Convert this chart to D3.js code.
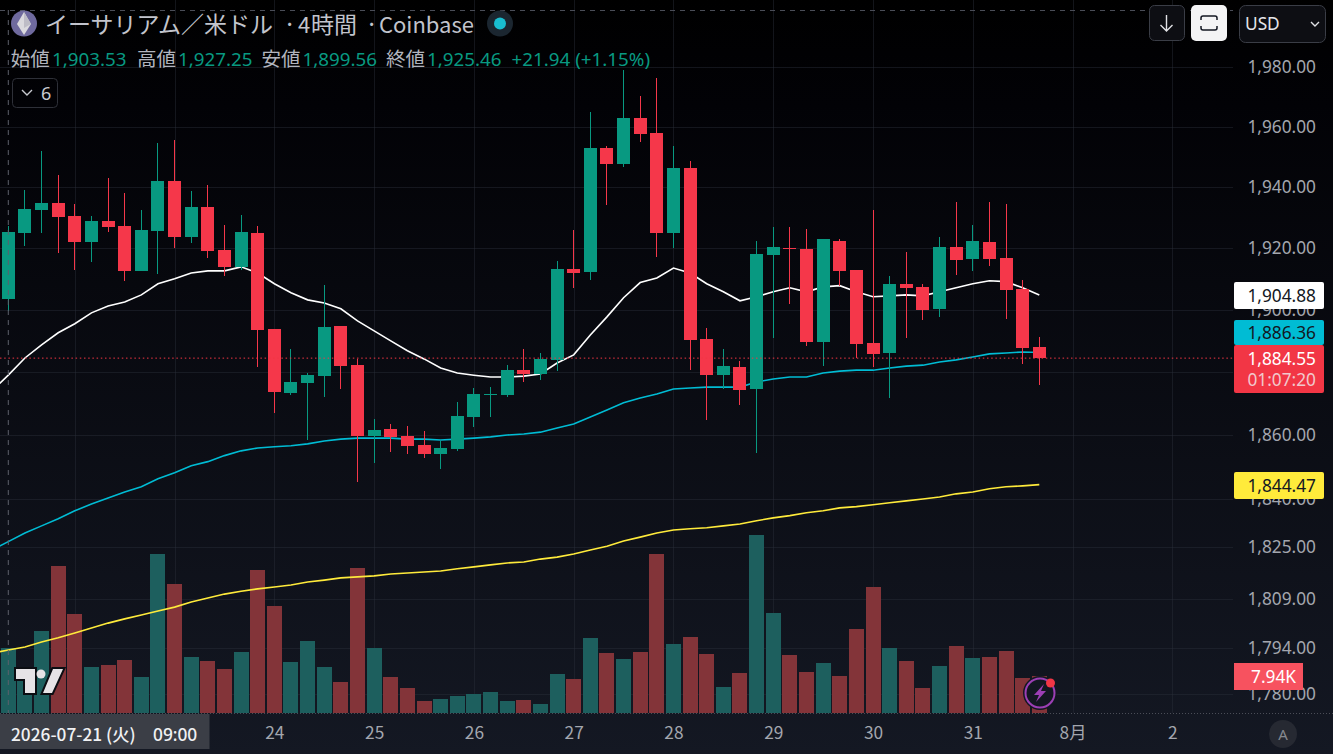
<!DOCTYPE html>
<html lang="ja">
<head>
<meta charset="utf-8">
<title>ETH/USD</title>
<script src="https://cdn.jsdelivr.net/npm/d3@7"></script>
<style>
	html, body { margin: 0; padding: 0; background: #000; overflow: hidden; }
	text { font-family: "Noto Sans", "Noto Sans CJK JP", sans-serif; }
	.cjk { font-family: "Noto Sans CJK JP", "Noto Sans", sans-serif; }
	.priceAxis text, .timeAxis text { fill: #a3a6ae; font-size: 17.3px; }
	.priceAxis path, .priceAxis line, .timeAxis path, .timeAxis line { display: none; }
	.gridLine { stroke: #2a2e39; stroke-opacity: 0.45; stroke-width: 1; shape-rendering: crispEdges; }
	.axisBtn { fill: #0d0e13; stroke: #3a3d46; stroke-width: 1; }
</style>
</head>
<body>
<div id="chart"></div>
<script>
//--------------------------------- Data -------------------------------------------------------------

var opens = [1903.53,1925.0,1932.6,1934.9,1930.6,1922.1,1929.0,1927.3,1912.7,1925.7,1942.1,1923.7,1933.6,1919.5,1914.0,1925.0,
	1893.9,1873.4,1876.6,1878.8,1894.9,1882.3,1859.8,1862.0,1859.8,1856.9,1854.1,1855.7,1865.8,1872.8,1872.8,1880.7,
	1879.5,1884.0,1913.3,1912.4,1953.1,1947.8,1963.0,1958.0,1925.0,1946.4,1890.7,1879.1,1881.7,1874.7,1917.9,1920.1,
	1919.8,1889.8,1922.4,1913.0,1889.4,1886.2,1908.5,1907.5,1900.4,1920.5,1916.6,1922.1,1916.9,1906.9,1888.2];
var highs = [1927.25,1939.1,1952.1,1944.1,1934.6,1930.6,1943.1,1938.2,1932.6,1954.7,1955.7,1938.8,1940.8,1927.7,1930.9,1927.3,
	1893.9,1887.5,1879.8,1908.2,1894.9,1884.3,1865.2,1863.6,1863.0,1861.4,1858.2,1870.6,1875.0,1875.3,1882.3,1887.5,
	1886.2,1915.9,1926.0,1965.0,1953.7,1979.1,1970.4,1976.4,1953.7,1948.8,1894.2,1887.5,1883.6,1922.4,1927.0,1927.0,
	1926.3,1923.1,1923.1,1913.0,1932.6,1911.1,1918.8,1908.5,1923.7,1935.2,1927.7,1935.2,1934.6,1909.8,1891.3];
var lows = [1899.56,1920.8,1925.0,1918.5,1913.0,1915.6,1925.3,1909.5,1912.7,1911.7,1920.1,1921.8,1916.9,1911.1,1913.0,1881.7,
	1867.1,1872.8,1858.5,1872.2,1874.7,1845.3,1851.3,1854.8,1854.1,1852.9,1849.4,1855.1,1862.6,1865.8,1872.2,1876.9,
	1877.6,1880.4,1907.2,1909.8,1934.2,1946.8,1955.1,1917.2,1920.1,1880.7,1864.9,1874.7,1869.6,1854.5,1891.0,1902.0,
	1888.5,1882.0,1907.9,1884.6,1881.7,1871.8,1891.0,1896.8,1897.8,1911.4,1912.7,1914.3,1897.1,1882.7,1876.0];
var closes = [1925.46,1932.9,1934.9,1930.3,1922.1,1929.0,1927.0,1912.7,1926.0,1942.1,1923.7,1933.6,1919.2,1914.0,1925.3,1893.6,
	1873.7,1876.9,1879.1,1894.6,1882.0,1859.8,1861.7,1859.5,1856.6,1854.1,1856.0,1866.1,1873.1,1873.1,1880.7,1879.5,
	1884.3,1913.3,1912.0,1953.1,1947.8,1963.0,1957.7,1925.0,1946.4,1890.4,1879.1,1882.0,1874.4,1918.2,1920.5,1919.8,
	1889.8,1923.1,1912.7,1889.1,1885.9,1908.5,1907.2,1900.0,1920.5,1916.2,1922.4,1916.6,1906.6,1887.8,1884.55];
//Volumes in thousands
var volumes = [13.95,8.23,17.67,31.62,21.32,9.94,10.37,11.44,7.80,34.19,27.75,12.09,11.23,9.51,13.16,30.76,
	23.03,11.02,15.52,9.94,6.72,31.19,14.02,7.80,5.44,2.65,3.08,3.72,4.15,4.58,2.65,2.86,
	2.00,8.44,7.37,16.17,12.95,11.66,13.16,34.19,14.88,16.38,12.73,5.65,8.66,38.27,21.53,12.52,
	8.87,10.80,8.01,18.10,27.11,14.02,11.23,5.44,10.16,14.45,11.87,12.09,13.38,7.58,7.94];
//The moving averages start one bar left of the first candle, they run off the chart there
var maWhite = [1874.0,1879.1,1884.6,1888.8,1892.7,1895.6,1899.1,1901.3,1902.6,1904.9,1908.5,1910.1,1912.0,1912.7,1912.7,1914.0,1912.0,
	1908.5,1905.6,1903.3,1902.3,1900.4,1896.5,1893.3,1890.1,1886.9,1884.3,1881.4,1879.8,1879.1,1878.5,1878.5,1878.8,
	1879.5,1883.0,1885.6,1892.0,1897.8,1904.0,1908.9,1910.4,1913.6,1912.0,1908.5,1905.9,1903.0,1904.3,1905.9,1907.2,
	1905.9,1907.5,1907.9,1905.9,1904.3,1904.6,1904.9,1904.6,1905.9,1907.2,1908.5,1909.5,1909.2,1907.2,1904.88];
var maCyan = [1824.1,1826.7,1829.4,1831.6,1833.8,1836.3,1838.4,1840.3,1842.2,1843.8,1846.3,1848.2,1850.4,1851.7,1853.6,1855.1,1856.0,
	1856.4,1856.7,1857.3,1858.2,1858.8,1859.1,1859.1,1859.1,1858.8,1858.8,1858.5,1858.8,1859.1,1859.5,1860.1,1860.4,
	1861.0,1862.3,1863.6,1865.8,1868.0,1870.3,1871.8,1873.1,1874.7,1875.0,1875.3,1875.3,1875.3,1876.9,1877.9,1878.5,
	1878.5,1879.8,1880.4,1880.7,1880.7,1881.4,1882.0,1882.3,1883.3,1884.0,1884.9,1885.9,1886.2,1886.5,1886.36];
var maYellow = [1792.4,1793.4,1794.3,1795.8,1797.1,1798.6,1800.1,1801.6,1802.9,1804.1,1805.3,1806.5,1808.1,1809.3,1810.5,1811.4,1812.1,
	1812.7,1813.3,1814.2,1814.8,1815.5,1815.8,1816.1,1816.7,1817.0,1817.3,1817.6,1818.3,1818.9,1819.5,1820.1,1820.4,
	1821.3,1821.9,1822.9,1824.1,1825.3,1826.9,1828.1,1829.4,1830.3,1830.7,1831.0,1831.6,1832.2,1833.2,1834.1,1834.8,
	1835.7,1836.3,1837.2,1837.6,1838.2,1838.8,1839.4,1840.0,1840.6,1841.6,1842.2,1843.2,1843.8,1844.1,1844.47];

var priceGrid = [1980, 1960, 1940, 1920, 1900, 1880, 1860, 1840, 1825, 1809, 1794, 1780];
//1,880.00 is covered by the price labels, so no tick text for it
var priceTicks = [1980, 1960, 1940, 1920, 1900, 1860, 1840, 1825, 1809, 1794, 1780];
//Bar index of each midnight, the first two sit under the crosshair date and print nothing
var dayGrid = [4, 10, 16, 22, 28, 34, 40, 46, 52, 58, 64, 70];
var dayTicks = [16, 22, 28, 34, 40, 46, 52, 58, 64, 70];
var dayLabels = ["24", "25", "26", "27", "28", "29", "30", "31", "8月", "2"];

var titleParts = ["イーサリアム／米ドル", "·", "4", "時間", "·", "Coinbase"];
var legendNames = ["始値", "高値", "安値", "終値"];
var legendValues = ["1,903.53", "1,927.25", "1,899.56", "1,925.46"];
var lastPrice = 1884.55;

//--------------------------------- Set up svg container ---------------------------------------

var width = 1333, height = 754, plotRight = 1233, timeTop = 713;
var upColor = "#089981", downColor = "#F5374A";
var upVolume = "#1D5F5E", downVolume = "#833439";

var svg = d3.select("#chart").append("svg")
	.attr("width", width)
	.attr("height", height)
	.style("display", "block");

var bg = svg.append("defs").append("linearGradient")
	.attr("id", "bg")
	.attr("x1", "0%").attr("y1", "0%")
	.attr("x2", "0%").attr("y2", "100%");
bg.append("stop").attr("offset", "0%").attr("stop-color", "#000000");
bg.append("stop").attr("offset", "14%").attr("stop-color", "#020206");
bg.append("stop").attr("offset", "100%").attr("stop-color", "#141823");

svg.append("rect").attr("width", width).attr("height", height).attr("fill", "url(#bg)");

//---------------------------------------- Scales ------------------------------------------------

var xScale = d3.scaleLinear().domain([0, 62]).range([8.3, 1039.3]);
var yScale = d3.scaleLog().domain([1980, 1780]).range([67.3, 694.1]);
var volScale = d3.scaleLinear().domain([0, 38.27]).range([timeTop, 535]);

//---------------------------------------- Grid ------------------------------------------------

svg.append("g").selectAll("line")
	.data(priceGrid)
	.enter().append("line")
	.attr("class", "gridLine")
	.attr("x1", 0).attr("x2", plotRight)
	.attr("y1", function(d) { return Math.round(yScale(d)) + 0.5; })
	.attr("y2", function(d) { return Math.round(yScale(d)) + 0.5; });

svg.append("g").selectAll("line")
	.data(dayGrid)
	.enter().append("line")
	.attr("class", "gridLine")
	.attr("y1", 0).attr("y2", timeTop)
	.attr("x1", function(d) { return Math.round(xScale(d)) + 0.5; })
	.attr("x2", function(d) { return Math.round(xScale(d)) + 0.5; });

//---------------------------------------- Volume ------------------------------------------------

var bars = d3.range(opens.length);

svg.append("g").selectAll("rect")
	.data(bars)
	.enter().append("rect")
	.attr("x", function(i) { return Math.round(xScale(i) - 7.5); })
	.attr("width", 15)
	.attr("y", function(i) { return volScale(volumes[i]); })
	.attr("height", function(i) { return timeTop - volScale(volumes[i]); })
	.attr("fill", function(i) { return closes[i] >= opens[i] ? upVolume : downVolume; })
	.attr("shape-rendering", "crispEdges");

//---------------------------------------- Moving averages ------------------------------------------------

var line = d3.line()
	.x(function(d, i) { return xScale(i - 1); })
	.y(function(d) { return yScale(d); });

[[maYellow, "#FFEB3B"], [maCyan, "#00BCD4"], [maWhite, "#FFFFFF"]].forEach(function(s) {
	svg.append("path")
		.attr("d", line(s[0]))
		.attr("fill", "none")
		.attr("stroke", s[1])
		.attr("stroke-width", 1.6);
});

//---------------------------------------- Candles ------------------------------------------------

var candles = svg.append("g").selectAll("g")
	.data(bars)
	.enter().append("g")
	.attr("fill", function(i) { return closes[i] >= opens[i] ? upColor : downColor; })
	.attr("shape-rendering", "crispEdges");

candles.append("rect")
	.attr("x", function(i) { return Math.round(xScale(i) - 0.5); })
	.attr("width", 1)
	.attr("y", function(i) { return yScale(highs[i]); })
	.attr("height", function(i) { return yScale(lows[i]) - yScale(highs[i]); });

candles.append("rect")
	.attr("x", function(i) { return Math.round(xScale(i) - 6.5); })
	.attr("width", 13)
	.attr("y", function(i) { return yScale(Math.max(opens[i], closes[i])); })
	.attr("height", function(i) { return Math.max(1, Math.abs(yScale(opens[i]) - yScale(closes[i]))); });

//---------------------------------------- Last price and crosshair ------------------------------------------------

svg.append("line")
	.attr("x1", 0).attr("x2", plotRight)
	.attr("y1", yScale(lastPrice)).attr("y2", yScale(lastPrice))
	.attr("stroke", "#F23645")
	.attr("stroke-dasharray", "1.5 2.7");

svg.append("line")
	.attr("x1", xScale(0)).attr("x2", xScale(0))
	.attr("y1", 10).attr("y2", timeTop)
	.attr("stroke", "#5d606b")
	.attr("stroke-dasharray", "5 5");
svg.append("line")
	.attr("x1", 0).attr("x2", plotRight)
	.attr("y1", 10.5).attr("y2", 10.5)
	.attr("stroke", "#4a4d57")
	.attr("stroke-dasharray", "5 5");

svg.append("line")
	.attr("x1", 0).attr("x2", width)
	.attr("y1", timeTop + 0.5).attr("y2", timeTop + 0.5)
	.attr("stroke", "#4a4d57")
	.attr("stroke-dasharray", "1 2");

//---------------------------------------- Axes ------------------------------------------------

svg.append("g")
	.attr("class", "priceAxis")
	.attr("transform", "translate(1316,0)")
	.call(d3.axisLeft(yScale)
		.tickValues(priceTicks)
		.tickSize(0)
		.tickPadding(0)
		.tickFormat(d3.format(",.2f")));

svg.append("g")
	.attr("class", "timeAxis")
	.attr("transform", "translate(0,727)")
	.call(d3.axisBottom(xScale)
		.tickValues(dayTicks)
		.tickSize(0)
		.tickPadding(0)
		.tickFormat(function(d, i) { return dayLabels[i]; }));
svg.selectAll(".timeAxis text").attr("class", "cjk");

//---------------------------------------- Price labels ------------------------------------------------

function priceLabel(top, bottom, fill) {
	svg.append("rect")
		.attr("x", 1234).attr("y", top)
		.attr("width", 90).attr("height", bottom - top)
		.attr("rx", 2)
		.attr("fill", fill);
}

function labelText(str, y, fill) {
	svg.append("text")
		.attr("x", 1316).attr("y", y)
		.attr("text-anchor", "end")
		.attr("font-size", 17.3)
		.attr("fill", fill)
		.text(str);
}

var priceFormat = d3.format(",.2f");

priceLabel(282, 309, "#FFFFFF");
labelText(priceFormat(maWhite[maWhite.length - 1]), 301.5, "#131722");
priceLabel(472, 499, "#FFEB3B");
labelText(priceFormat(maYellow[maYellow.length - 1]), 491.5, "#131722");
priceLabel(320, 345, "#00BCD4");
labelText(priceFormat(maCyan[maCyan.length - 1]), 338.5, "#131722");
priceLabel(345, 393, "#F23645");
labelText(priceFormat(lastPrice), 364.5, "#FFFFFF");
labelText("01:07:20", 386, "#F1C8CC");

svg.append("rect")
	.attr("x", 1234).attr("y", 663)
	.attr("width", 69).attr("height", 27)
	.attr("fill", "#F7525F");
svg.append("text")
	.attr("x", 1296).attr("y", 682.5)
	.attr("text-anchor", "end").attr("font-size", 17.3).attr("fill", "#FFFFFF")
	.text(volumes[volumes.length - 1].toFixed(2) + "K");

//---------------------------------------- Header ------------------------------------------------

svg.append("circle").attr("cx", 24).attr("cy", 23.5).attr("r", 13).attr("fill", "#6F6A9E");
svg.append("path")
	.attr("d", "M24 12 L31 24 L24 35 L17 24 Z")
	.attr("fill", "#DAD9DE");
svg.append("path")
	.attr("d", "M24 12 L31 24 L24 28 Z")
	.attr("fill", "#BDBCC6");

var titleX = [45, 283, 298, 311, 365, 379];
var titleSize = [23, 24, 22, 23, 24, 22];
titleParts.forEach(function(part, i) {
	svg.append("text")
		.attr("class", "cjk")
		.attr("x", titleX[i]).attr("y", 33)
		.attr("font-size", titleSize[i])
		.attr("fill", "#C2C4CC")
		.text(part);
});

svg.append("circle").attr("cx", 500).attr("cy", 23.5).attr("r", 13).attr("fill", "#1B2630");
svg.append("circle").attr("cx", 500).attr("cy", 23.5).attr("r", 6).attr("fill", "#19BDCF");

var legendX = [10.7, 137, 261.5, 386];
var valueX = [52, 178, 302.5, 427];
legendNames.forEach(function(name, i) {
	svg.append("text")
		.attr("class", "cjk")
		.attr("x", legendX[i]).attr("y", 65.5)
		.attr("font-size", 19.5).attr("fill", "#B2B5BE")
		.text(name);
	svg.append("text")
		.attr("x", valueX[i]).attr("y", 65.5)
		.attr("font-size", 18.8).attr("fill", upColor)
		.text(legendValues[i]);
});
svg.append("text")
	.attr("x", 511.5).attr("y", 65.5)
	.attr("font-size", 18.8).attr("fill", upColor)
	.text("+21.94 (+1.15%)");

//The "v 6" button under the legend
svg.append("rect")
	.attr("x", 12.5).attr("y", 78.5)
	.attr("width", 45).attr("height", 29).attr("rx", 4)
	.attr("fill", "none").attr("stroke", "#2e3038");
svg.append("path")
	.attr("d", "M22 90 L27 95 L32 90")
	.attr("fill", "none").attr("stroke", "#C8CAD0").attr("stroke-width", 1.4);
svg.append("text")
	.attr("x", 41).attr("y", 99.5)
	.attr("font-size", 18).attr("fill", "#C8CAD0")
	.text("6");

//---------------------------------------- Top right buttons ------------------------------------------------

svg.append("rect").attr("class", "axisBtn")
	.attr("x", 1149.5).attr("y", 5.5).attr("width", 35).attr("height", 35).attr("rx", 5);
svg.append("path")
	.attr("d", "M1166.5 15 V31 M1160.5 25 L1166.5 31 L1172.5 25")
	.attr("fill", "none").attr("stroke", "#E0E1E5").attr("stroke-width", 1.4);

svg.append("rect")
	.attr("x", 1191).attr("y", 5).attr("width", 36).attr("height", 36).attr("rx", 5)
	.attr("fill", "#F4F4F5");
svg.append("path")
	.attr("d", "M1201 20 V18 Q1201 16 1203 16 H1215 Q1217 16 1217 18 V20 M1201 26 V28 Q1201 30 1203 30 H1215 Q1217 30 1217 28 V26")
	.attr("fill", "none").attr("stroke", "#131722").attr("stroke-width", 1.5);

svg.append("rect").attr("class", "axisBtn")
	.attr("x", 1239.5).attr("y", 5.5).attr("width", 86).attr("height", 37).attr("rx", 6);
svg.append("text")
	.attr("x", 1245).attr("y", 30)
	.attr("font-size", 17.3).attr("fill", "#E6E6EA")
	.text("USD");
svg.append("path")
	.attr("d", "M1311 22 L1315 26 L1319 22")
	.attr("fill", "none").attr("stroke", "#E0E1E5").attr("stroke-width", 1.4);

//---------------------------------------- Crosshair time label, logo, badges ------------------------------------------------

svg.append("rect")
	.attr("x", 0).attr("y", 714)
	.attr("width", 209.5).attr("height", 35)
	.attr("fill", "#3B3E46");
svg.append("text")
	.attr("class", "cjk")
	.attr("x", 11).attr("y", 741)
	.attr("font-size", 17.3).attr("font-weight", 500).attr("fill", "#F0F1F3")
	.text("2026-07-21 (火)");
svg.append("text")
	.attr("x", 153).attr("y", 741)
	.attr("font-size", 17.3).attr("font-weight", 500).attr("fill", "#F0F1F3")
	.text("09:00");

//TradingView logo
svg.append("path")
	.attr("d", "M16 669 H35 V693 H25 V679 H16 Z M53 669 H63 L52 693 H43 Z")
	.attr("fill", "#E6E3E6")
	.attr("stroke", "#0B0D12")
	.attr("stroke-width", 4)
	.attr("paint-order", "stroke");
svg.append("circle").attr("cx", 41).attr("cy", 674).attr("r", 4.5).attr("fill", "#E6E3E6");

//Lightning badge
svg.append("circle").attr("cx", 1040).attr("cy", 693).attr("r", 17).attr("fill", "#131722");
svg.append("circle").attr("cx", 1040).attr("cy", 693)
	.attr("r", 14.5)
	.attr("fill", "none").attr("stroke", "#9C3FB5").attr("stroke-width", 2);
svg.append("path")
	.attr("d", "M1044 684 L1034 695 H1039 L1036 702 L1046 691 H1041 Z")
	.attr("fill", "#9C3FB5");
svg.append("circle").attr("cx", 1050.5).attr("cy", 683).attr("r", 4.5).attr("fill", "#F23645");

//Auto scale button
svg.append("circle").attr("cx", 1283).attr("cy", 734).attr("r", 14).attr("fill", "#262932");
svg.append("text")
	.attr("x", 1283).attr("y", 740)
	.attr("text-anchor", "middle")
	.attr("font-size", 15).attr("fill", "#85888F")
	.text("A");
</script>
</body>
</html>
